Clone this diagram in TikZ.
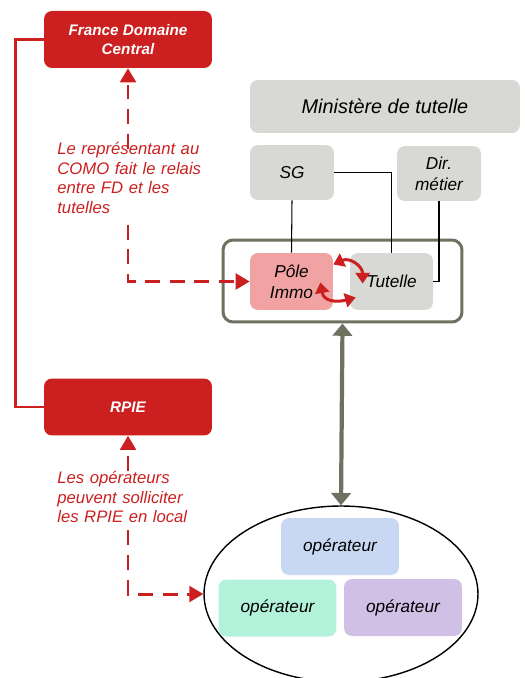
\documentclass[tikz,border=0pt]{standalone}
\usepackage{fontspec}
\setmainfont{Liberation Sans}
\usetikzlibrary{positioning}
\usetikzlibrary{arrows.meta}
\usetikzlibrary{shapes.geometric}
\usetikzlibrary{calc}
\definecolor{fdred}{RGB}{204,32,32}
\definecolor{boxgrey}{RGB}{216,216,212}
\definecolor{polepink}{RGB}{241,163,163}
\definecolor{framegrey}{RGB}{112,112,96}
\definecolor{opblue}{RGB}{201,216,242}
\definecolor{opgreen}{RGB}{179,242,218}
\definecolor{oppurple}{RGB}{208,192,230}
\tikzset{
box/.style={ % rounded boxes, italic text
rounded corners=0.16cm,
align=center,
inner sep=1pt,
font=\itshape\fontsize{9.8}{12}\selectfont},
redbox/.style={box,
fill=fdred, text=white,
font=\bfseries\itshape\fontsize{8.7}{11}\selectfont,
minimum width=3.36cm, minimum height=1.14cm},
greybox/.style={box, fill=boxgrey, minimum width=1.68cm, minimum height=1.1cm},
opbox/.style={box, minimum width=2.36cm, minimum height=1.14cm},
note/.style={ % red comments beside the dashed links
text=fdred, align=left, inner sep=0pt, text width=3.2cm, anchor=west,
font=\itshape\fontsize{9.5}{11.3}\selectfont},
dasharrow/.style={draw=fdred, line width=1.7pt,
dash pattern=on 8.5pt off 5.5pt,
-{Triangle[length=8pt,width=9pt]}},
swaparrow/.style={draw=fdred, line width=1.7pt, looseness=1.3,
{Triangle[length=6pt,width=8pt]}-{Triangle[length=6pt,width=8pt]}},
linkarrow/.style={draw=framegrey, line width=2.4pt,
{Triangle[length=7pt,width=11pt]}-{Triangle[length=7pt,width=11pt]}}}

\begin{document}
\begin{tikzpicture}[x=0.02cm, y=-0.02cm]
\useasboundingbox (0,0) rectangle (524,678);
\clip (0,0) rectangle (524,678);

% France Domaine side
\node[redbox] (fdc) at (128,39.5) {France Domaine\\Central};
\node[redbox] (rpie) at (128,407) {RPIE};
\draw[fdred, line width=1.7pt] (fdc.west) -- ++(-28,0) |- (rpie.west);

% ministry
\node[box, fill=boxgrey, minimum width=5.4cm, minimum height=1.06cm,
font=\itshape\fontsize{11.3}{13}\selectfont] (min) at (385,106.5) {Ministère de tutelle};
\node[greybox] (sg) at (292,172.5) {SG};
\node[greybox] (dir) at (439,173.5) {Dir.\\métier};

\node[draw=framegrey, line width=1.7pt, rounded corners=0.2cm,
minimum width=4.78cm, minimum height=1.64cm] (cadre) at (342.5,281) {};
\node[box, fill=polepink, minimum width=1.66cm, minimum height=1.14cm] (pole) at (291.5,281.5) {Pôle\\Immo};
\node[greybox, minimum width=1.66cm, minimum height=1.14cm] (tut) at (391.5,281.5) {Tutelle};

\draw[line width=0.6pt] (sg.south) -- (pole.north);
\draw[line width=0.6pt] (sg.east) -| (tut.north);
\draw[line width=0.6pt] (dir.south) |- (tut.east);

\draw[swaparrow] ($(pole.east)+(0,-17)$) to[out=25, in=90] ($(tut.west)+(13,2)$);
\draw[swaparrow] ($(tut.west)+(6,16)$) to[out=195, in=-80] ($(pole.east)+(-13,1)$);

% operators
\node[draw, ellipse, line width=0.8pt, minimum width=5.48cm, minimum height=3.52cm] (ops) at (341,594) {};
\node[opbox, fill=opblue] (op1) at (340,546.5) {opérateur};
\node[opbox, fill=opgreen] (op2) at (277.5,608) {opérateur};
\node[opbox, fill=oppurple] (op3) at (403,607.5) {opérateur};
\draw[linkarrow] (cadre.south) -- (ops.north);

% comments and dashed links
\node[note] (relais) at (57,178) {Le représentant au\\COMO fait le relais\\entre FD et les\\tutelles};
\node[note] (local) at (57,497) {Les opérateurs\\peuvent solliciter\\les RPIE en local};
\draw[dasharrow] ([yshift=-4pt]relais.north -| fdc.south) -- (fdc.south);
\draw[dasharrow] ([yshift=-6pt]relais.south -| fdc.south) |- (pole.west);
\draw[dasharrow] (local.north -| rpie.south) -- (rpie.south);
\draw[dasharrow] ([yshift=-4pt]local.south -| rpie.south) |- (ops.west);
\end{tikzpicture}
\end{document}
